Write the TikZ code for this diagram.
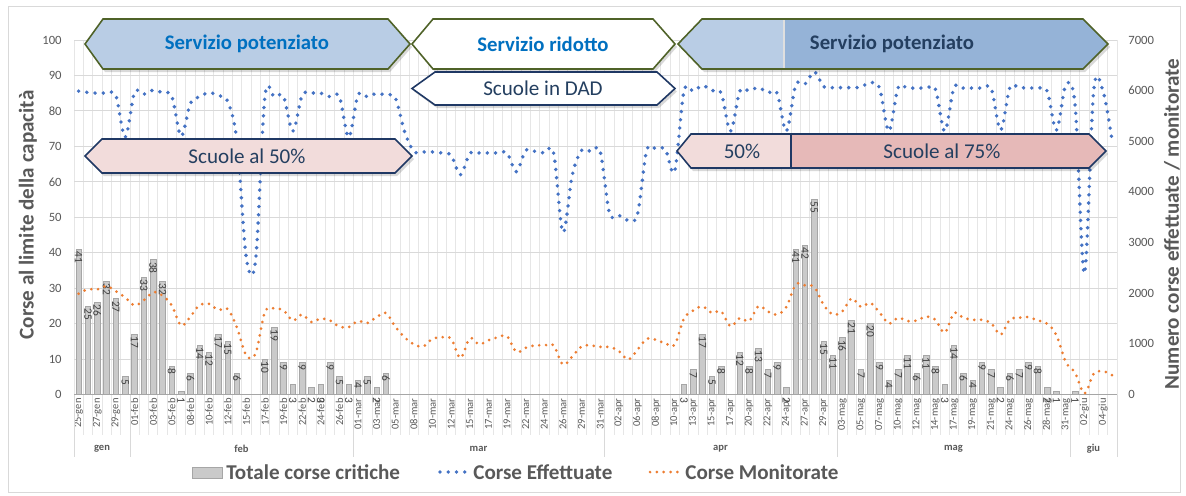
\documentclass[tikz,border=0pt]{standalone}
\usepackage{fontspec}
\setmainfont{Carlito}
\usetikzlibrary{positioning}

\definecolor{txtgray}{HTML}{595959}
\definecolor{gridgray}{HTML}{D9D9D9}
\definecolor{vgridgray}{HTML}{E6E6E6}
\definecolor{barfill}{HTML}{CACACA}
\definecolor{barline}{HTML}{A6A6A6}
\definecolor{effblue}{HTML}{4472C4}
\definecolor{monorange}{HTML}{ED7D31}
\definecolor{olivebd}{HTML}{4F6228}
\definecolor{navybd}{HTML}{1F3864}
\definecolor{servblue}{HTML}{0070C0}
\definecolor{lightblue}{HTML}{B9CDE5}
\definecolor{midblue}{HTML}{95B3D7}
\definecolor{lightpink}{HTML}{F2DCDB}
\definecolor{midpink}{HTML}{E6B9B8}
\definecolor{navytxt}{HTML}{243F60}

% banner a freccia: punta sx, angolo sx, angolo dx, punta dx, alto, basso
\newcommand{\sigpath}[6]{(#1,{(#5+#6)/2}) -- (#2,#5) -- (#3,#5) -- (#4,{(#5+#6)/2}) -- (#3,#6) -- (#2,#6) -- cycle}

\tikzset{
  ticklbl/.style={text=txtgray, font=\fontsize{7.2}{8}\selectfont, inner sep=0pt},
  datelbl/.style={text=txtgray, font=\fontsize{6}{7}\selectfont, inner sep=0pt, rotate=90, anchor=east},
  monthlbl/.style={text=txtgray, font=\bfseries\fontsize{6}{7}\selectfont, inner sep=0pt},
  barlbl/.style={text=black!75, font=\fontsize{6.5}{7}\selectfont, inner sep=0pt, rotate=-90, anchor=west},
  axtitle/.style={text=txtgray, font=\bfseries\fontsize{12}{14}\selectfont, rotate=90},
  legtxt/.style={text=txtgray, font=\bfseries\fontsize{12}{14}\selectfont, anchor=west, inner sep=0pt},
  effline/.style={draw=effblue, line width=2.2pt, line cap=round, dash pattern=on 0pt off 4.7pt},
  monline/.style={draw=monorange, line width=1.7pt, line cap=round, dash pattern=on 0pt off 3.9pt},
  servbox/.style={draw=olivebd, line width=0.9pt},
  scuolabox/.style={draw=navybd, line width=0.9pt},
  boxshadow/.style={fill=black, opacity=0.15},
  servtxt/.style={font=\bfseries\fontsize{11.8}{13}\selectfont},
  scuolatxt/.style={text=navytxt, font=\fontsize{12}{14}\selectfont},
}

\begin{document}
\begin{tikzpicture}[x=0.02cm,y=-0.02cm]
\useasboundingbox (0,0) rectangle (1186,495);
\fill[white] (0,0) rectangle (1186,495);
\draw[gridgray] (8,6) rectangle (1180,492);

% griglia
\foreach \k in {0,...,112}
  \draw[vgridgray, line width=0.4pt] ({74+9.3125*\k},40) -- ({74+9.3125*\k},435);
\foreach \v in {0,10,...,100}
  \draw[gridgray, line width=0.5pt] (74,{394.5-3.545*\v}) -- (1117,{394.5-3.545*\v});
\draw[barline, line width=0.5pt] (74,394.5) -- (1117,394.5);

% assi
\foreach \v in {0,10,...,100}
  \node[ticklbl, anchor=east] (l\v) at (62,{394.5-3.545*\v}) {\v};
\foreach \v in {0,1000,...,7000}
  \node[ticklbl, anchor=west] (r\v) at (1128,{394.5-0.050643*\v}) {\v};
\node[axtitle] (ytl) at (28,215) {Corse al limite della capacità};
\node[axtitle] (ytr) at (1172,224) {Numero corse effettuate / monitorate};

% date e mesi
\foreach \d [count=\n from 0] in {25-gen,27-gen,29-gen,01-feb,03-feb,05-feb,08-feb,10-feb,12-feb,15-feb,17-feb,19-feb,22-feb,24-feb,26-feb,01-mar,03-mar,05-mar,08-mar,10-mar,12-mar,15-mar,17-mar,19-mar,22-mar,24-mar,26-mar,29-mar,31-mar,02-apr,06-apr,08-apr,10-apr,13-apr,15-apr,17-apr,20-apr,22-apr,24-apr,27-apr,29-apr,03-mag,05-mag,07-mag,10-mag,12-mag,14-mag,17-mag,19-mag,21-mag,24-mag,26-mag,28-mag,31-mag,02-giu,04-giu}
  \node[datelbl] (d\n) at ({78.655+18.625*\n},398) {\d};
\foreach \x in {74,130,353,604,837,1070,1117}
  \draw[gridgray, line width=0.5pt] (\x,394.5) -- (\x,457);
\foreach \m/\x in {gen/102,feb/241.5,mar/478.5,apr/720.5,mag/953.5,giu/1093.5}
  \node[monthlbl] (m\m) at (\x,449) {\m};

% barre
\foreach \i/\v in {0/41,1/25,2/26,3/32,4/27,5/5,6/17,7/33,8/38,9/32,10/8,11/1,12/6,13/14,14/12,15/17,16/15,17/6,20/10,21/19,22/9,23/3,24/9,25/2,26/3,27/9,28/5,29/3,30/4,31/5,32/2,33/6,65/3,66/7,67/17,68/5,69/8,71/12,72/8,73/13,74/7,75/9,76/2,77/41,78/42,79/55,80/15,81/11,82/16,83/21,84/7,85/20,86/9,87/4,88/7,89/11,90/6,91/11,92/8,93/3,94/14,95/6,96/4,97/9,98/7,99/2,100/6,101/7,102/9,103/8,104/2,105/1,107/1}{
  \filldraw[fill=barfill, draw=barline, line width=0.4pt] ({78.655+9.3125*\i-2.8},394.5) rectangle ({78.655+9.3125*\i+2.8},{394.5-3.545*\v});
  \pgfmathsetmacro\ly{\v>3 ? 394.5-3.545*\v+2 : 397}
  \node[barlbl] (b\i) at ({78.655+9.3125*\i},\ly) {\v};
}

% linee
\def\monpts{}
\foreach \v [count=\i from 0] in {1990,2080,2075,2140,2040,1915,1760,1860,2020,1955,1760,1360,1540,1770,1790,1670,1690,1320,770,810,1630,1700,1660,1460,1580,1430,1500,1460,1340,1330,1450,1410,1530,1610,1340,1130,990,950,1100,1130,1100,720,1110,990,1070,1130,1150,840,920,970,970,970,590,750,950,970,940,940,860,690,880,1100,1080,1010,980,1500,1660,1740,1610,1640,1345,1510,1450,1745,1640,1580,1730,2170,2155,2120,1770,1580,1640,1900,1730,1810,1620,1400,1515,1450,1460,1540,1475,1220,1610,1515,1475,1475,1410,1180,1480,1515,1530,1460,1400,1170,640,430,20,410,460,380}{
  \pgfmathsetmacro\px{78.655+9.3125*\i}
  \pgfmathsetmacro\py{394.5-0.050643*\v}
  \xdef\monpts{\monpts(\px,\py) }
}
\edef\tmp{\noexpand\draw[monline] plot[smooth, tension=0.55] coordinates {\monpts};}\tmp

\def\effpts{}
\foreach \v [count=\i from 0] in {5990,5965,5950,5950,5900,5080,5965,5930,6010,5960,5890,5100,5750,5880,5960,5900,5790,5000,2700,2650,5880,5880,5880,5200,5910,5950,5950,5880,5880,5080,5910,5880,5945,5910,5860,5190,4800,4790,4790,4770,4720,4340,4760,4770,4770,4770,4770,4400,4820,4800,4770,4770,3200,4330,4820,4800,4800,3580,3540,3440,3550,4820,4850,4840,4410,5990,5990,6100,6000,5950,5200,5990,6000,6060,5960,5950,5200,6110,6130,6370,6080,6060,6060,6060,6070,6160,6050,5200,6060,6050,6050,6050,6030,5200,6060,6050,6050,6050,6040,5220,6060,6060,6050,6050,5990,5220,6110,5710,2390,6010,5990,4980}{
  \pgfmathsetmacro\px{78.655+9.3125*\i}
  \pgfmathsetmacro\py{394.5-0.050643*\v}
  \xdef\effpts{\effpts(\px,\py) }
}
\edef\tmp{\noexpand\draw[effline] plot[smooth, tension=0.55] coordinates {\effpts};}\tmp

% banner servizio
\fill[boxshadow, shift={(2,3)}] \sigpath{85}{103}{388}{410}{19}{69};
\fill[boxshadow, shift={(2,3)}] \sigpath{412}{433}{653}{675}{19}{69};
\fill[boxshadow, shift={(2,3)}] \sigpath{678}{702}{1083}{1108}{19}{69};
\filldraw[servbox, fill=lightblue] \sigpath{85}{103}{388}{410}{19}{69};
\filldraw[servbox, fill=white] \sigpath{412}{433}{653}{675}{19}{69};
\fill[lightblue] (678,44) -- (702,19) -- (784,19) -- (784,69) -- (702,69) -- cycle;
\fill[midblue] (784,19) -- (1083,19) -- (1108,44) -- (1083,69) -- (784,69) -- cycle;
\draw[white!75!gray, line width=0.6pt] (784,19) -- (784,69);
\draw[servbox] \sigpath{678}{702}{1083}{1108}{19}{69};
\node[servtxt, text=servblue] (potA) at (247,44) {Servizio potenziato};
\node[servtxt, text=servblue] (rid) at (543,44) {Servizio ridotto};
\node[servtxt, text=navytxt] (potB) at (892,44) {Servizio potenziato};

% banner scuole
\fill[boxshadow, shift={(2,3)}] \sigpath{412}{435}{657}{675}{72}{105};
\fill[boxshadow, shift={(2,3)}] \sigpath{85}{102}{395}{412}{139}{173};
\fill[boxshadow, shift={(2,3)}] \sigpath{677}{691}{1089}{1106}{134}{168};
\filldraw[scuolabox, fill=white] \sigpath{412}{435}{657}{675}{72}{105};
\filldraw[scuolabox, fill=lightpink] \sigpath{85}{102}{395}{412}{139}{173};
\fill[lightpink] (677,151) -- (691,134) -- (791,134) -- (791,168) -- (691,168) -- cycle;
\fill[midpink] (791,134) -- (1089,134) -- (1106,151) -- (1089,168) -- (791,168) -- cycle;
\draw[scuolabox] \sigpath{677}{691}{1089}{1106}{134}{168};
\draw[scuolabox] (791,134) -- (791,168);
\node[scuolatxt] (dad) at (543,88.5) {Scuole in DAD};
\node[scuolatxt] (s50) at (247,156) {Scuole al 50\%};
\node[scuolatxt] (p50) at (742,151) {50\%};
\node[scuolatxt] (s75) at (942,151) {Scuole al 75\%};

% legenda
\filldraw[fill=barfill, draw=barline, line width=0.4pt] (192,467) rectangle (222,478);
\node[legtxt] (legA) at (226,472.5) {Totale corse critiche};
\coordinate (effA) at (440,472);
\coordinate (effB) at (468,472);
\draw[effline] (effA) -- (effB);
\node[legtxt] (legB) at (473,472.5) {Corse Effettuate};
\coordinate (monA) at (650,472);
\coordinate (monB) at (682,472);
\draw[monline] (monA) -- (monB);
\node[legtxt] (legC) at (685,472.5) {Corse Monitorate};
\end{tikzpicture}
\end{document}
